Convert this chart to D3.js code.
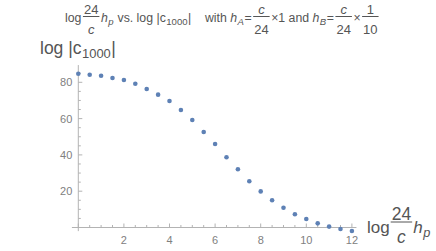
<!DOCTYPE html>
<html>
<head>
<meta charset="utf-8">
<script src="https://cdn.jsdelivr.net/npm/d3@7"></script>
<style>
  body { margin: 0; background: #fff; }
  svg { display: block; }
  text { font-family: "Liberation Sans", Arial, sans-serif; }
</style>
</head>
<body>
<script>
// log(24/c) h_p values, step 0.5
var logH = [0, 0.5, 1, 1.5, 2, 2.5, 3, 3.5, 4, 4.5, 5, 5.5, 6,
            6.5, 7, 7.5, 8, 8.5, 9, 9.5, 10, 10.5, 11, 11.5, 12];
// log |c_1000|
var logC = [84.7, 84.2, 83.6, 82.4, 81.3, 79.2, 76.3, 73.2, 69.7, 64.7, 59.2, 52.6, 46.0,
            38.7, 32.1, 25.5, 19.9, 15.0, 10.9, 7.3, 4.7, 2.3, 0.5, -0.8, -1.9];
var xTicks = [2, 4, 6, 8, 10, 12];
var yTicks = [20, 40, 60, 80];

var width = 436, height = 251;
var axisCol = "#b3b3b3", labCol = "#808080", txtCol = "#555";

var svg = d3.select("body").append("svg")
    .attr("width", width)
    .attr("height", height);

var x = d3.scaleLinear().domain([0, 12]).range([78.3, 351.9]);
var y = d3.scaleLinear().domain([0, 80]).range([227.5, 82.3]);

// x axis
var xMinor = d3.range(0, 12.01, 0.5);
var gx = svg.append("g").attr("transform", "translate(0," + y(0) + ")");
gx.append("line")
    .attr("x1", x(-0.28)).attr("x2", x(12.2))
    .attr("stroke", axisCol);
gx.selectAll(".mn").data(xMinor).enter().append("line")
    .attr("x1", function(d) { return x(d); }).attr("x2", function(d) { return x(d); })
    .attr("y1", 0).attr("y2", function(d) { return d % 2 === 0 ? -4 : -2.5; })
    .attr("stroke", axisCol);
gx.selectAll(".lb").data(xTicks).enter().append("text")
    .attr("x", function(d) { return x(d); })
    .attr("y", 16)
    .attr("text-anchor", "middle")
    .attr("font-size", 11)
    .attr("fill", labCol)
    .text(function(d) { return d; });

// y axis
var yMinor = d3.range(0, 86, 5);
var gy = svg.append("g").attr("transform", "translate(" + x(0) + ",0)");
gy.append("line")
    .attr("y1", y(89.5)).attr("y2", y(-2))
    .attr("stroke", axisCol);
gy.selectAll(".mn").data(yMinor).enter().append("line")
    .attr("y1", function(d) { return y(d); }).attr("y2", function(d) { return y(d); })
    .attr("x1", 0).attr("x2", function(d) { return d % 20 === 0 ? 4 : 2.5; })
    .attr("stroke", axisCol);
gy.selectAll(".lb").data(yTicks).enter().append("text")
    .attr("x", -6)
    .attr("y", function(d) { return y(d) + 4; })
    .attr("text-anchor", "end")
    .attr("font-size", 11)
    .attr("fill", labCol)
    .text(function(d) { return d; });

// points
svg.selectAll(".pt").data(logH).enter().append("circle")
    .attr("cx", function(d) { return x(d); })
    .attr("cy", function(d, i) { return y(logC[i]); })
    .attr("r", 2.3)
    .attr("fill", "#5e81b5");

// lay out a row of text pieces and fractions
// o: size, fsize, bar (offset of bar above baseline), num, den (baseline offsets from bar), pad, sub
function mathRow(parts, x0, base, o, col) {
  var g = svg.append("g").attr("fill", col);
  var cx = x0;
  parts.forEach(function(p) {
    if (p.frac) {
      var top = g.append("text").attr("font-size", o.fsize).attr("text-anchor", "middle")
          .attr("font-style", p.it0 ? "italic" : null).text(p.frac[0]);
      var bot = g.append("text").attr("font-size", o.fsize).attr("text-anchor", "middle")
          .attr("font-style", p.it1 ? "italic" : null).text(p.frac[1]);
      var w = Math.max(top.node().getComputedTextLength(), bot.node().getComputedTextLength()) + 2;
      var x1 = cx + o.pad, mid = x1 + w / 2;
      var barY = base - o.bar;
      top.attr("x", mid).attr("y", barY - o.num);
      bot.attr("x", mid).attr("y", barY + o.den);
      g.append("line").attr("x1", x1).attr("x2", x1 + w)
          .attr("y1", barY).attr("y2", barY)
          .attr("stroke", col).attr("stroke-width", 1);
      cx = x1 + w + o.pad;
    } else {
      var t = g.append("text").attr("x", cx).attr("y", base).attr("font-size", o.size)
          .attr("font-style", p.it ? "italic" : null)
          .style("white-space", "pre").text(p.t);
      cx += t.node().getComputedTextLength();
      if (p.sub) {
        var s = g.append("text").attr("x", cx + 0.5).attr("y", base + o.size * 0.22)
            .attr("font-size", o.size * o.sub)
            .attr("font-style", p.subIt ? "italic" : null).text(p.sub);
        cx += s.node().getComputedTextLength() + 1;
      }
    }
  });
  return cx;
}

// title
mathRow([
  {t: "log"}, {frac: ["24", "c"], it1: true}, {t: "h", it: true, sub: "p", subIt: true},
  {t: " vs. log |c", sub: "1000"}, {t: "|    with "},
  {t: "h", it: true, sub: "A", subIt: true}, {t: "="}, {frac: ["c", "24"], it0: true},
  {t: "\u00d71 and "}, {t: "h", it: true, sub: "B", subIt: true}, {t: "="},
  {frac: ["c", "24"], it0: true}, {t: "\u00d7"}, {frac: ["1", "10"]}
], 65, 22, {size: 12.3, fsize: 13, bar: 5.5, num: 2.5, den: 17, pad: 1.5, sub: 0.78}, txtCol);

// y label
mathRow([{t: "log |c", sub: "1000"}, {t: "|"}], 40, 54,
  {size: 17.5, sub: 0.74}, txtCol);

// x label
mathRow([{t: "log"}, {frac: ["24", "c"], it1: true}, {t: "h", it: true, sub: "p", subIt: true}],
  367, 233, {size: 17, fsize: 17.5, bar: 11, num: 2, den: 20.5, pad: 1, sub: 0.75}, txtCol);
</script>
</body>
</html>
